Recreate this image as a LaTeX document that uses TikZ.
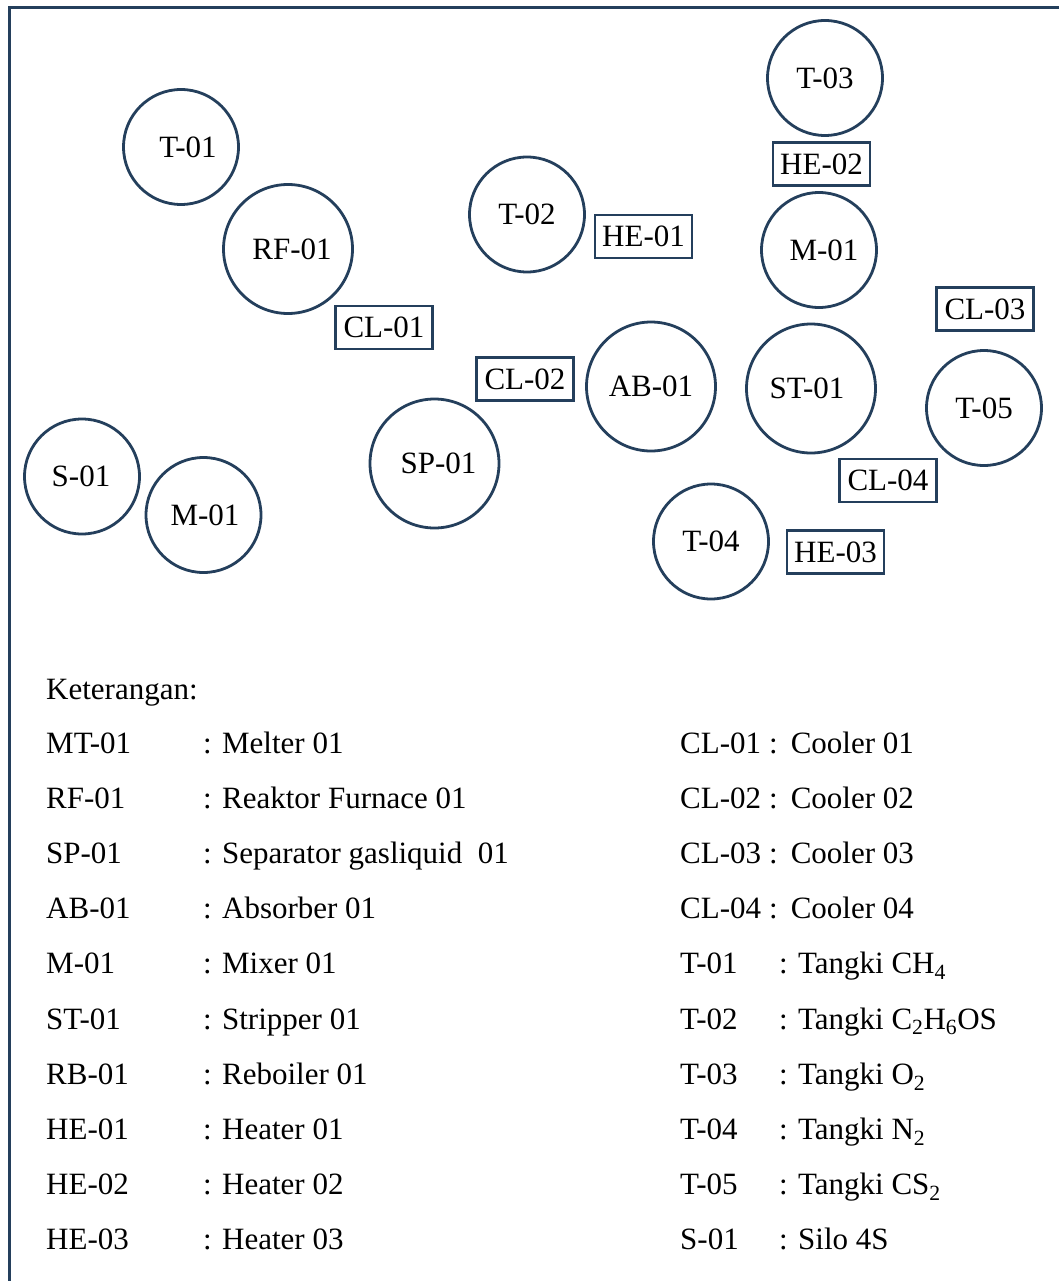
\documentclass[tikz,border=0pt]{standalone}
\usepackage{fontspec}
\setmainfont{Liberation Serif}
\definecolor{linecol}{HTML}{243F5C}
\tikzset{
  txt/.style={font=\fontsize{31}{38}\selectfont, inner sep=0pt},
  tank/.style={circle, draw=linecol, line width=2.8pt, inner sep=0pt},
  small/.style={tank, minimum size=115pt},
  big/.style={tank, minimum size=129pt},
  lbl/.style={txt},
  unit/.style={txt, draw=linecol, line width=2.8pt, minimum width=97pt, minimum height=43pt},
  leg/.style={txt, anchor=base west},
  frame/.style={draw=linecol, line width=3pt}
}
\begin{document}
\begin{tikzpicture}[x=1pt, y=-1pt]
\useasboundingbox (0,0) rectangle (1059,1281);
\clip (0,0) rectangle (1059,1281);
\fill[white] (0,0) rectangle (1059,1281);
% outer frame
\draw[frame] (9.5,7.5) rectangle (1080,1300);

% equipment
\node[small, label={[lbl, xshift=7pt]center:T-01}] (t01) at (181,147) {};
\node[big, label={[lbl, xshift=4pt]center:RF-01}] (rf01) at (288,249) {};
\node[small, label={[lbl]center:T-02}] (t02) at (527,214.5) {};
\node[small, label={[lbl]center:T-03}] (t03) at (825,78) {};
\node[small, label={[lbl, xshift=5pt]center:M-01}] (m01a) at (819,250) {};
\node[big, label={[lbl, xshift=-4pt]center:ST-01}] (st01) at (811,388.5) {};
\node[big, label={[lbl]center:AB-01}] (ab01) at (651,386.5) {};
\node[small, label={[lbl]center:T-05}] (t05) at (984,408) {};
\node[big, label={[lbl, xshift=4pt]center:SP-01}] (sp01) at (434.5,463.5) {};
\node[small, label={[lbl, xshift=-1pt]center:S-01}] (s01) at (82,476.5) {};
\node[small, label={[lbl, xshift=1.5pt]center:M-01}] (m01b) at (203.5,515) {};
\node[small, label={[lbl]center:T-04}] (t04) at (711,541.5) {};

% heat exchangers and coolers
\node[unit] (he01) at (643.5,236.5) {HE-01};
\node[unit] (he02) at (821.5,164) {HE-02};
\node[unit] (cl01) at (384,327.5) {CL-01};
\node[unit] (cl02) at (525,379) {CL-02};
\node[unit] (cl03) at (985,309) {CL-03};
\node[unit] (cl04) at (888,480.5) {CL-04};
\node[unit] (he03) at (835.5,552) {HE-03};

% legend
\node[leg] (ket) at (46,699) {Keterangan:};
\foreach \code/\desc [count=\i] in {MT-01/Melter 01, RF-01/Reaktor Furnace 01,
    SP-01/Separator gasliquid\ \ 01, AB-01/Absorber 01, M-01/Mixer 01,
    ST-01/Stripper 01, RB-01/Reboiler 01, HE-01/Heater 01,
    HE-02/Heater 02, HE-03/Heater 03} {
  \node[leg] (lc\i) at (46,{753+(\i-1)*55.2}) {\code};
  \node[leg] (ld\i) at (203,{753+(\i-1)*55.2}) {: \desc};
}
\foreach \code/\desc [count=\i] in {CL-01/Cooler 01, CL-02/Cooler 02,
    CL-03/Cooler 03, CL-04/Cooler 04} {
  \node[leg] (rc\i) at (680,{753+(\i-1)*55.2}) {\code};
  \node[leg] (rd\i) at (769,{753+(\i-1)*55.2}) {:\hspace{13pt}\desc};
}
\foreach \code/\desc [count=\i from 5] in {T-01/Tangki CH\textsubscript{4},
    T-02/Tangki C\textsubscript{2}H\textsubscript{6}OS, T-03/Tangki O\textsubscript{2},
    T-04/Tangki N\textsubscript{2}, T-05/Tangki CS\textsubscript{2}, S-01/Silo 4S} {
  \node[leg] (rc\i) at (680,{753+(\i-1)*55.2}) {\code};
  \node[leg] (rd\i) at (779,{753+(\i-1)*55.2}) {: \desc};
}
\end{tikzpicture}
\end{document}
